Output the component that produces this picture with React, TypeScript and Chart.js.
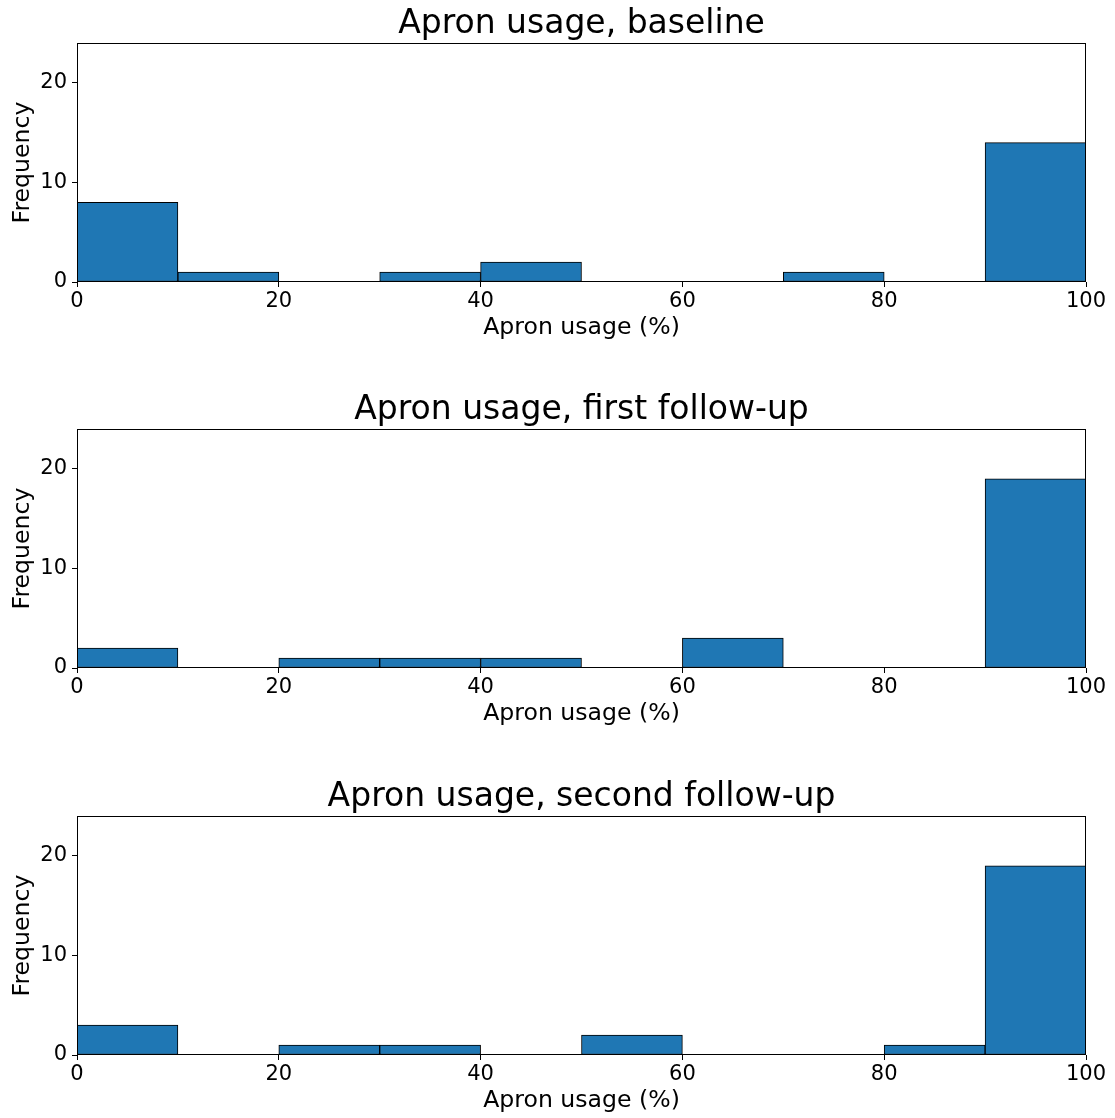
import React, { useEffect, useRef } from "react";
import { Chart, registerables } from "chart.js";

Chart.register(...registerables);

// ---- data ----
const binEdges = [0, 10, 20, 30, 40, 50, 60, 70, 80, 90, 100];
const xTicks = [0, 20, 40, 60, 80, 100];
const yTicks = [0, 10, 20];
const titles = [
  "Apron usage, baseline",
  "Apron usage, first follow-up",
  "Apron usage, second follow-up",
];
const baselineCounts = [8, 1, 0, 1, 2, 0, 0, 1, 0, 14];
const firstFollowUpCounts = [2, 0, 1, 1, 1, 0, 3, 0, 0, 19];
const secondFollowUpCounts = [3, 0, 1, 1, 0, 2, 0, 0, 1, 19];
const seriesList = [baselineCounts, firstFollowUpCounts, secondFollowUpCounts];
const xLabel = "Apron usage (%)";
const yLabel = "Frequency";
const yMax = 24;

const FONT = "'DejaVu Sans', sans-serif";
const W = 1115;
const H = 387;
const tops = [0, 386, 773];

const framePlugin = {
  id: "frame",
  afterDraw(chart: any) {
    const { ctx, chartArea } = chart;
    ctx.save();
    ctx.strokeStyle = "#000";
    ctx.lineWidth = 1;
    const l = Math.round(chartArea.left) + 0.5;
    const r = Math.round(chartArea.right) - 0.5;
    const t = Math.round(chartArea.top) + 0.5;
    const b = Math.round(chartArea.bottom) - 0.5;
    ctx.strokeRect(l, t, r - l, b - t);
    // axes title centred over the plot area
    const text = chart.options.plugins.axesTitle?.text;
    if (text) {
      ctx.fillStyle = "#000";
      ctx.font = `normal 33px ${FONT}`;
      ctx.textAlign = "center";
      ctx.textBaseline = "alphabetic";
      ctx.fillText(text, (chartArea.left + chartArea.right) / 2, chartArea.top - 10);
    }
    ctx.restore();
  },
};

function Histogram({ counts, title }: { counts: number[]; title: string }) {
  const ref = useRef<HTMLCanvasElement>(null);
  useEffect(() => {
    if (!ref.current) return;
    const data = counts.map((c, i) => ({
      x: (binEdges[i] + binEdges[i + 1]) / 2,
      y: c,
    }));
    const chart = new Chart(ref.current, {
      type: "bar",
      data: {
        datasets: [
          {
            data,
            backgroundColor: "#1f77b4",
            borderColor: "#000",
            borderWidth: 1,
            borderSkipped: false,
            barPercentage: 1,
            categoryPercentage: 1,
          },
        ],
      },
      options: {
        animation: false,
        responsive: false,
        devicePixelRatio: 1,
        layout: { padding: { left: 0, right: 29, top: 43, bottom: 45 } },
        plugins: {
          legend: { display: false },
          tooltip: { enabled: false },
          title: { display: false },
          axesTitle: { text: title },
        },
        scales: {
          x: {
            type: "linear",
            min: 0,
            max: 100,
            offset: false,
            border: { display: false },
            grid: {
              offset: false,
              drawOnChartArea: false,
              drawTicks: true,
              tickLength: 5,
              color: "#000",
            },
            afterBuildTicks: (scale: any) => {
              scale.ticks = xTicks.map((v) => ({ value: v }));
            },
            afterFit: (scale: any) => {
              scale.height = 60;
            },
            ticks: {
              color: "#000",
              padding: 2,
              maxRotation: 0,
              autoSkip: false,
              font: { family: FONT, size: 21, lineHeight: 1.2 },
            },
            title: {
              display: true,
              text: xLabel,
              color: "#000",
              padding: { top: 0, bottom: 0 },
              font: { family: FONT, size: 23.6, lineHeight: 1.2 },
            },
          },
          y: {
            type: "linear",
            min: 0,
            max: yMax,
            border: { display: false },
            grid: {
              drawOnChartArea: false,
              drawTicks: true,
              tickLength: 5,
              color: "#000",
            },
            afterBuildTicks: (scale: any) => {
              scale.ticks = yTicks.map((v) => ({ value: v }));
            },
            afterFit: (scale: any) => {
              scale.width = 77;
            },
            ticks: {
              color: "#000",
              padding: 5,
              autoSkip: false,
              font: { family: FONT, size: 21, lineHeight: 1.2 },
            },
            title: {
              display: true,
              text: yLabel,
              color: "#000",
              padding: { top: 8.5, bottom: 0 },
              font: { family: FONT, size: 23.6, lineHeight: 1.2 },
            },
          },
        },
      },
      plugins: [framePlugin],
    } as any);
    return () => chart.destroy();
  }, [counts, title]);
  return <canvas ref={ref} width={W} height={H} style={{ display: "block" }} />;
}

export default function App() {
  return (
    <div
      style={{
        position: "absolute",
        left: 0,
        top: 0,
        width: W,
        height: 1118,
        background: "#fff",
      }}
    >
      {seriesList.map((counts, i) => (
        <div key={i} style={{ position: "absolute", left: 0, top: tops[i] }}>
          <Histogram counts={counts} title={titles[i]} />
        </div>
      ))}
    </div>
  );
}
